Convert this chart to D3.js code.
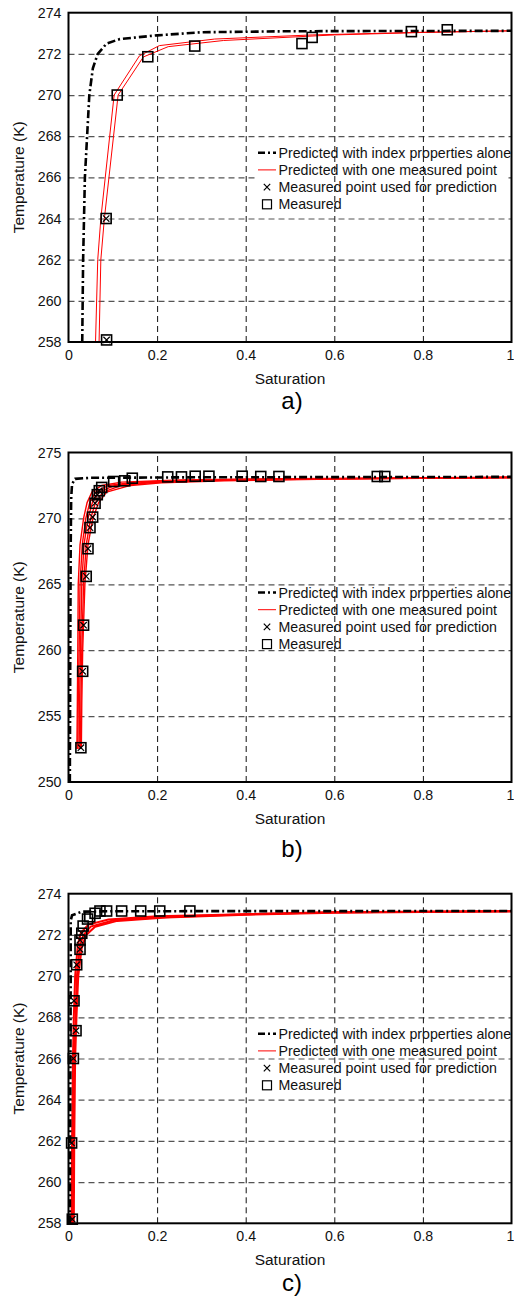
<!DOCTYPE html>
<html>
<head>
<meta charset="utf-8">
<script src="https://cdn.jsdelivr.net/npm/d3@7"></script>
<style>
  html, body { margin: 0; padding: 0; background: #fff; }
  svg { display: block; }
  text { font-family: "Liberation Sans", Arial, Helvetica, sans-serif; }
</style>
</head>
<body>
<svg id="fig" width="514" height="1301"></svg>
<script>
// ---------- data ----------
const xTicks = [0, 0.2, 0.4, 0.6, 0.8, 1];
const yTicksA = [258, 260, 262, 264, 266, 268, 270, 272, 274];
const yTicksB = [250, 255, 260, 265, 270, 275];
const yTicksC = [258, 260, 262, 264, 266, 268, 270, 272, 274];

const legendLabels = [
  "Predicted with index properties alone",
  "Predicted with one measured point",
  "Measured point used for prediction",
  "Measured"
];

// (a) saturation, temperature
const indexA = [[0.031,258],[0.033,262],[0.037,266],[0.042,268],[0.047,270],[0.055,271.3],[0.066,272],[0.086,272.5],[0.116,272.72],[0.2,272.9],[0.3,273.05],[0.5,273.1],[1,273.12]];
const oneA1 = [[0.061,258],[0.066,262],[0.073,264],[0.103,270],[0.160,271.9],[0.205,272.4],[0.33,272.72],[0.55,272.92],[0.8,273.05],[1,273.12]];
const oneA2 = [[0.069,258],[0.073,262],[0.081,264],[0.112,270],[0.169,271.85],[0.225,272.35],[0.35,272.65],[0.6,272.92],[0.8,273.04],[1,273.12]];
const usedA = [[0.085,264.0],[0.086,258.1]];
const measA = [[0.110,270.0],[0.179,271.86],[0.285,272.38],[0.527,272.5],[0.550,272.8],[0.774,273.08],[0.855,273.17]];

// (b)
const indexB = [[0.003,250],[0.004,260],[0.005,268],[0.006,271.5],[0.008,272.6],[0.015,273.0],[0.05,273.08],[0.3,273.12],[1,273.15]];
const oneB1 = [[0.019,252.5],[0.020,256],[0.021,260],[0.022,265],[0.026,268],[0.034,270],[0.042,271.2],[0.053,272],[0.075,272.5],[0.12,272.75],[0.25,272.92],[0.5,273.02],[1,273.12]];
const oneB2 = [[0.021,252.5],[0.022,256],[0.024,260],[0.026,265],[0.031,268],[0.039,270],[0.048,271.2],[0.061,272],[0.09,272.5],[0.15,272.75],[0.28,272.9],[0.5,273.0],[1,273.1]];
const oneB3 = [[0.024,252.5],[0.025,256],[0.027,260],[0.030,265],[0.035,268],[0.044,270],[0.054,271.2],[0.069,272],[0.105,272.5],[0.17,272.73],[0.3,272.88],[0.55,273.0],[1,273.1]];
const oneB4 = [[0.027,252.5],[0.028,256],[0.030,260],[0.034,265],[0.040,268],[0.050,270],[0.061,271.2],[0.078,272],[0.12,272.5],[0.19,272.72],[0.32,272.87],[0.55,272.98],[1,273.1]];
const oneB5 = [[0.029,252.5],[0.030,256],[0.032,260],[0.037,265],[0.044,268],[0.055,270],[0.068,271.2],[0.086,272],[0.14,272.5],[0.21,272.7],[0.35,272.86],[0.6,272.98],[1,273.1]];
const usedB = [[0.028,252.6],[0.032,258.4],[0.034,261.9],[0.040,265.6],[0.044,267.7],[0.0485,269.3],[0.0545,270.1],[0.060,271.15],[0.065,271.8],[0.0695,272.1]];
const measB = [[0.075,272.35],[0.102,272.8],[0.127,272.85],[0.144,273.05],[0.224,273.15],[0.255,273.15],[0.286,273.2],[0.317,273.2],[0.392,273.2],[0.434,273.18],[0.475,273.18],[0.697,273.18],[0.714,273.18]];

// (c)
const indexC = [[0.003,258],[0.004,264],[0.005,270],[0.005,272.7],[0.008,272.95],[0.03,273.13],[0.1,273.15],[1,273.16]];
const oneC1 = [[0.007,258],[0.008,262],[0.010,266],[0.012,268],[0.015,270],[0.021,271.5],[0.028,272.1],[0.045,272.5],[0.09,272.75],[0.2,272.9],[0.4,273.0],[0.6,273.1],[1,273.15]];
const oneC2 = [[0.010,258],[0.011,262],[0.013,266],[0.016,268],[0.019,270],[0.026,271.5],[0.034,272.0],[0.05,272.4],[0.1,272.7],[0.2,272.85],[0.4,273.0],[0.6,273.1],[1,273.15]];
const oneC3 = [[0.012,258],[0.013,262],[0.015,266],[0.018,268],[0.022,270],[0.03,271.4],[0.04,272.0],[0.06,272.4],[0.11,272.68],[0.22,272.85],[0.4,272.98],[0.6,273.08],[1,273.15]];
const usedC = [[0.0086,258.2],[0.007,261.9],[0.011,266.0],[0.017,267.35],[0.0124,268.8],[0.0185,270.55],[0.026,271.3],[0.026,271.75],[0.03,272.08]];
const measC = [[0.033,272.43],[0.043,272.77],[0.048,272.88],[0.06,273.05],[0.071,273.16],[0.086,273.16],[0.12,273.16],[0.163,273.16],[0.206,273.16],[0.274,273.16]];

// ---------- layout ----------
const svg = d3.select("#fig");
const X0 = 68.5, X1 = 511.5;
const FONT = "'Liberation Sans', Arial, Helvetica, sans-serif";

const panels = [
  { id: "a", top: 12.7, bottom: 342, yDomain: [258, 274], yTicks: yTicksA,
    index: indexA, one: [oneA1, oneA2], oneWidth: 1, used: usedA, meas: measA,
    legendBox: true, caption: "a)", captionY: 409 },
  { id: "b", top: 452.5, bottom: 782, yDomain: [250, 275], yTicks: yTicksB,
    index: indexB, one: [oneB1, oneB2, oneB3, oneB4, oneB5], oneWidth: 1.4, used: usedB, meas: measB,
    legendBox: false, caption: "b)", captionY: 857 },
  { id: "c", top: 893.7, bottom: 1223.3, yDomain: [258, 274], yTicks: yTicksC,
    index: indexC, one: [oneC1, oneC2, oneC3], oneWidth: 2, used: usedC, meas: measC,
    legendBox: false, caption: "c)", captionY: 1291 }
];

const x = d3.scaleLinear().domain([0, 1]).range([X0, X1]);
const fmtX = d => d === 0 ? "0" : d === 1 ? "1" : d.toFixed(1);

const dashIndex = "8,3,2,3";

function drawSquare(g, px, py) {
  g.append("rect").attr("x", px - 5).attr("y", py - 5)
    .attr("width", 10).attr("height", 10)
    .attr("fill", "none").attr("stroke", "#000").attr("stroke-width", 1.6);
}
function drawCross(g, px, py) {
  const s = 3.2;
  g.append("path")
    .attr("d", `M${px - s},${py - s}L${px + s},${py + s}M${px - s},${py + s}L${px + s},${py - s}`)
    .attr("stroke", "#000").attr("stroke-width", 1.2).attr("fill", "none");
}

panels.forEach(p => {
  const y = d3.scaleLinear().domain(p.yDomain).range([p.bottom, p.top]);
  const g = svg.append("g").attr("class", "panel-" + p.id);
  const h = p.bottom - p.top;

  // horizontal grid
  g.append("g")
    .attr("transform", `translate(${X0},0)`)
    .call(d3.axisLeft(y).tickValues(p.yTicks.slice(1, -1)).tickSize(-(X1 - X0)).tickFormat(""))
    .call(a => a.select(".domain").remove())
    .call(a => a.selectAll("line").attr("stroke", "#555").attr("stroke-width", 1.2).attr("stroke-dasharray", "6,4"));

  const legTop = p.top + 140;
  const rowGap = 17.2;

  if (p.legendBox) {
    g.append("rect").attr("x", 256).attr("y", legTop - 9)
      .attr("width", 249).attr("height", rowGap * 3 + 17).attr("fill", "#fff");
  }

  // vertical grid
  g.append("g")
    .attr("transform", `translate(0,${p.bottom})`)
    .call(d3.axisBottom(x).tickValues(xTicks.slice(1, -1)).tickSize(-h).tickFormat(""))
    .call(a => a.select(".domain").remove())
    .call(a => a.selectAll("line").attr("stroke", "#111").attr("stroke-width", 1).attr("stroke-dasharray", "6,4"));

  // clip region
  const clipId = "clip-" + p.id;
  svg.append("clipPath").attr("id", clipId)
    .append("rect").attr("x", X0).attr("y", p.top).attr("width", X1 - X0).attr("height", h);

  const data = g.append("g").attr("clip-path", `url(#${clipId})`);
  const line = d3.line().x(d => x(d[0])).y(d => y(d[1]));

  p.one.forEach(s => {
    data.append("path").datum(s).attr("d", line)
      .attr("fill", "none").attr("stroke", "#f00").attr("stroke-width", p.oneWidth);
  });

  data.append("path").datum(p.index).attr("d", line)
    .attr("fill", "none").attr("stroke", "#000").attr("stroke-width", 2.6)
    .attr("stroke-dasharray", dashIndex);

  const marks = g.append("g");
  p.meas.forEach(d => drawSquare(marks, x(d[0]), y(d[1])));
  p.used.forEach(d => { drawSquare(marks, x(d[0]), y(d[1])); drawCross(marks, x(d[0]), y(d[1])); });

  // frame
  g.append("rect").attr("x", X0).attr("y", p.top).attr("width", X1 - X0).attr("height", h)
    .attr("fill", "none").attr("stroke", "#000").attr("stroke-width", 2);

  // tick labels
  g.append("g")
    .attr("transform", `translate(${X0},0)`)
    .call(d3.axisLeft(y).tickValues(p.yTicks).tickSize(0).tickPadding(7).tickFormat(d3.format("d")))
    .call(a => a.select(".domain").remove())
    .call(a => a.selectAll("text").attr("font-size", 14.2).attr("fill", "#111").attr("font-family", FONT));

  g.append("g")
    .attr("transform", `translate(0,${p.bottom})`)
    .call(d3.axisBottom(x).tickValues(xTicks).tickSize(0).tickPadding(8).tickFormat(fmtX))
    .call(a => a.select(".domain").remove())
    .call(a => a.selectAll("text").attr("font-size", 14.2).attr("fill", "#111").attr("font-family", FONT)
      .attr("dx", d => d === 1 ? -1.5 : 0));

  g.append("text").attr("x", (X0 + X1) / 2).attr("y", p.bottom + 42)
    .attr("text-anchor", "middle").attr("font-size", 15.5).attr("fill", "#111")
    .text("Saturation");

  g.append("text")
    .attr("transform", `translate(24,${(p.top + p.bottom) / 2}) rotate(-90)`)
    .attr("text-anchor", "middle").attr("font-size", 15.5).attr("fill", "#111")
    .text("Temperature (K)");

  g.append("text").attr("x", (X0 + X1) / 2 + 2).attr("y", p.captionY)
    .attr("text-anchor", "middle").attr("font-size", 24)
    .attr("font-family", "'Liberation Serif', 'Times New Roman', serif")
    .text(p.caption);

  // legend
  const leg = g.append("g");
  legendLabels.forEach((lab, i) => {
    const ry = legTop + i * rowGap;
    if (i === 0) {
      leg.append("line").attr("x1", 258).attr("x2", 276).attr("y1", ry).attr("y2", ry)
        .attr("stroke", "#000").attr("stroke-width", 2.6).attr("stroke-dasharray", "7,3,2,3");
    } else if (i === 1) {
      leg.append("line").attr("x1", 258).attr("x2", 276).attr("y1", ry).attr("y2", ry)
        .attr("stroke", "#f00").attr("stroke-width", 1);
    } else if (i === 2) {
      drawCross(leg, 267, ry);
    } else {
      leg.append("rect").attr("x", 262.5).attr("y", ry - 4.5).attr("width", 9).attr("height", 9)
        .attr("fill", "none").attr("stroke", "#000").attr("stroke-width", 1.2);
    }
    leg.append("text").attr("x", 278.5).attr("y", ry + 5)
      .attr("font-size", 14.2).attr("fill", "#111").text(lab);
  });
});
</script>
</body>
</html>
